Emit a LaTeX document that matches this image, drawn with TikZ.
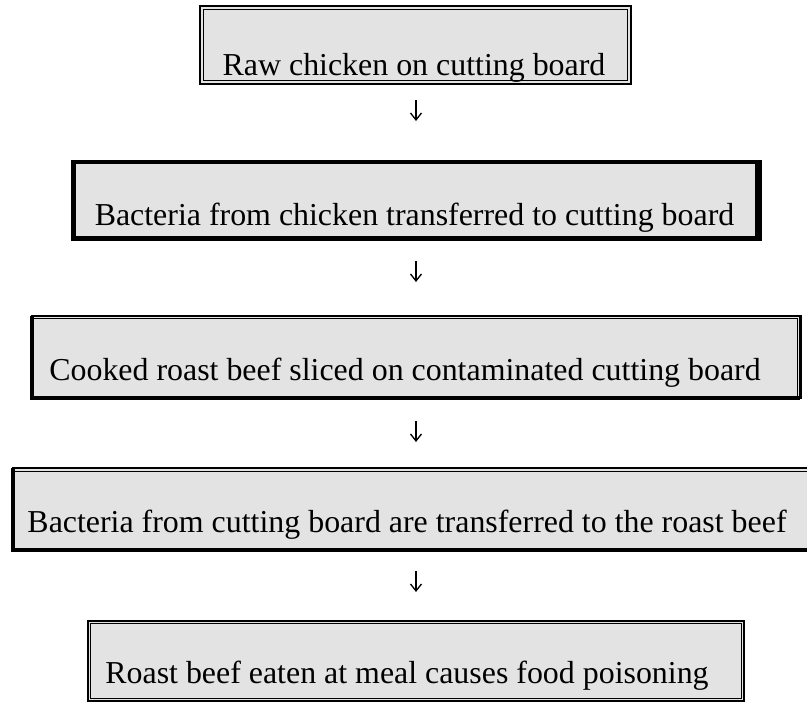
\documentclass[tikz,border=0pt]{standalone}
\usepackage{fontspec}
\setmainfont{Liberation Serif}
\usetikzlibrary{arrows.meta}
\definecolor{boxgray}{RGB}{227,227,227}
\begin{document}
\begin{tikzpicture}[x=1pt,y=-1pt,
  boxbase/.style={rectangle, fill=boxgray, draw=black, inner sep=0pt, outer sep=0pt},
  lbl/.style={anchor=base, inner sep=0pt, font=\fontsize{31.9}{38}\selectfont},
  thinln/.style={line width=1pt},
  thickln/.style={line width=4pt},
  arr/.style={line width=1.3pt, -{Straight Barb[length=7pt,width=11pt]}}]
\useasboundingbox (0,0) rectangle (807,702);

% Box 1 (double border)
\node[boxbase, line width=2pt, minimum width=431pt, minimum height=78.3pt] (b1) at (415.5,45.25) {};
\draw[thinln] ([xshift=3.5pt,yshift=-3.5pt]b1.north west) rectangle ([xshift=-3.5pt,yshift=3.5pt]b1.south east);

% Box 2 (thick border, thin line outside right)
\node[boxbase, line width=4.5pt, minimum width=684pt, minimum height=76.3pt] (b2) at (415.3,200.15) {};
\draw[line width=1.3pt] ([xshift=3.8pt,yshift=2.2pt]b2.north east) -- ([xshift=3.8pt,yshift=-2.2pt]b2.south east);

% Box 3
\node[boxbase, line width=2.5pt, minimum width=768.3pt, minimum height=81.7pt] (b3) at (416.15,356.85) {};
\draw[thickln] (b3.north west) -- (b3.south west) -- (b3.south east);
\draw[line width=0.9pt] ([xshift=2pt,yshift=-2.9pt]b3.north west) -- ([xshift=-3pt,yshift=-2.9pt]b3.north east) -- ([xshift=-3pt,yshift=1.7pt]b3.south east);

% Box 4
\node[boxbase, line width=2.2pt, minimum width=809pt, minimum height=81.7pt] (b4) at (417.5,509.15) {};
\draw[thickln] (b4.north west) -- (b4.south west) -- (b4.south east);
\draw[line width=0.9pt] ([xshift=2pt,yshift=-3pt]b4.north west) -- ([yshift=-3pt]b4.north east);

% Box 5 (double border)
\node[boxbase, line width=2pt, minimum width=656pt, minimum height=79.8pt] (b5) at (416,660.9) {};
\draw[thinln] ([xshift=2.7pt,yshift=-2.7pt]b5.north west) rectangle ([xshift=-2.7pt,yshift=2.7pt]b5.south east);

% Texts
\node[lbl] (t1) at (414,75) {Raw chicken on cutting board};
\node[lbl] (t2) at (414.5,225) {Bacteria from chicken transferred to cutting board};
\node[lbl] (t3) at (405,380) {Cooked roast beef sliced on contaminated cutting board};
\node[lbl] (t4) at (407,532) {Bacteria from cutting board are transferred to the roast beef};
\node[lbl] (t5) at (407,683) {Roast beef eaten at meal causes food poisoning};

% Arrows
\coordinate (ax) at (416,0);
\draw[arr, shorten <=15.7pt, shorten >=41pt] (b1.south -| ax) -- (b2.north -| ax);
\draw[arr, shorten <=22.7pt, shorten >=34pt] (b2.south -| ax) -- (b3.north -| ax);
\draw[arr, shorten <=23.3pt, shorten >=26.3pt] (b3.south -| ax) -- (b4.north -| ax);
\draw[arr, shorten <=21pt, shorten >=29pt] (b4.south -| ax) -- (b5.north -| ax);
\end{tikzpicture}
\end{document}
